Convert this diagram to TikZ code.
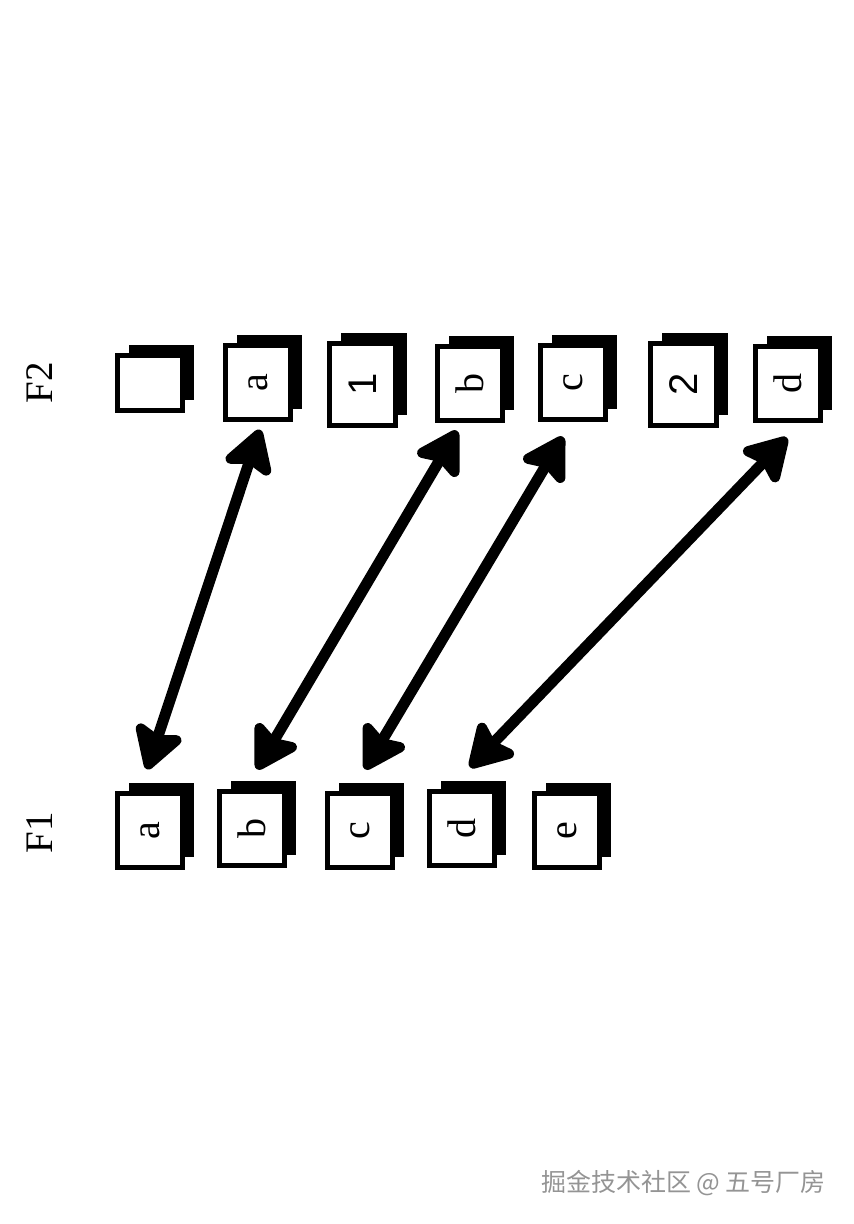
\documentclass[tikz,border=0pt]{standalone}
\usepackage{fontspec}
\usepackage{graphicx}
\setmainfont{Liberation Serif}
\newfontfamily\digitfont{Liberation Sans}
\newfontfamily\cjk{Noto Sans CJK SC}
\usetikzlibrary{arrows.meta,shadows}
\begin{document}
\begin{tikzpicture}[x=1pt,y=-1pt,
  cell/.style={draw=black, line width=5.5pt, fill=white, inner sep=0pt,
    minimum width=65pt, minimum height=74pt,
    drop shadow={shadow xshift=11pt, shadow yshift=11pt, fill=black, opacity=1},
    font=\fontsize{40}{40}\selectfont},
  tallcell/.style={cell, minimum width=66pt, minimum height=82pt},
  emptycell/.style={cell, minimum height=55pt},
  rowlabel/.style={font=\fontsize{39}{39}\selectfont, inner sep=0pt},
  link/.style={line width=11pt, {Stealth[length=50pt,width=58pt,inset=9pt,round]}-{Stealth[length=50pt,width=58pt,inset=9pt,round]}},
  wmark/.style={font=\cjk\fontsize{25}{25}\selectfont, text=black!42, inner sep=0pt}
]
\useasboundingbox (0,0) rectangle (854,1224);

% row labels
\node[rowlabel] (lF2) at (40,383) {\rotatebox{90}{F2}};
\node[rowlabel] (lF1) at (40,833) {\rotatebox{90}{F1}};

% F2 row
\node[emptycell] (g0) at (150,383) {};
\node[cell] (ga) at (258,382.5) {\rotatebox{90}{a}};
\node[tallcell] (g1) at (362.5,384.5) {\rotatebox{90}{\digitfont 1}};
\node[cell] (gb) at (470,383.5) {\rotatebox{90}{b}};
\node[cell] (gc) at (573,382.5) {\rotatebox{90}{c}};
\node[tallcell] (g2) at (683.5,384.5) {\rotatebox{90}{\digitfont 2}};
\node[cell] (gd) at (788,383.5) {\rotatebox{90}{d}};

% F1 row
\node[cell] (fa) at (150,830.5) {\rotatebox{90}{a}};
\node[cell] (fb) at (252,828.5) {\rotatebox{90}{b}};
\node[cell] (fc) at (360,830.5) {\rotatebox{90}{c}};
\node[cell] (fd) at (462,828.5) {\rotatebox{90}{d}};
\node[cell] (fe) at (567,830.5) {\rotatebox{90}{e}};

% connectors
\draw[link] ([shift={(-3pt,21.5pt)}]fa.north) -- ([shift={(2pt,-7.5pt)}]ga.south);
\draw[link] ([shift={(5pt,19.5pt)}]fb.north) -- ([shift={(-13pt,-7.5pt)}]gb.south);
\draw[link] ([shift={(5pt,21.5pt)}]fc.north) -- ([shift={(-10pt,-14.5pt)}]gc.south);
\draw[link] ([shift={(8pt,21.5pt)}]fd.north) -- ([shift={(-1pt,-14.5pt)}]gd.south);

% watermark
\node[wmark] (wm) at (683.5,1183) {掘金技术社区 @ 五号厂房};
\end{tikzpicture}
\end{document}
